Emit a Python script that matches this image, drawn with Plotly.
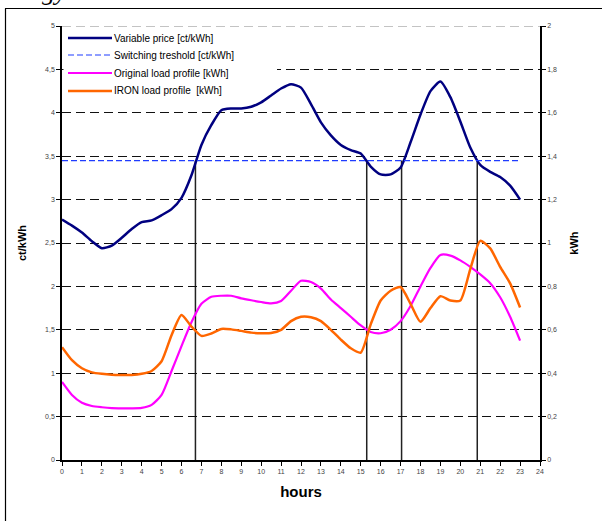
import plotly.graph_objects as go

# ---- data ----
hours = [i * 0.5 for i in range(47)]  # 0 .. 23 in half-hour steps

price = [2.77, 2.70, 2.62, 2.52, 2.44, 2.47, 2.56, 2.66, 2.74, 2.76,
         2.82, 2.89, 3.02, 3.28, 3.63, 3.86, 4.03, 4.05, 4.05, 4.07,
         4.12, 4.20, 4.28, 4.33, 4.29, 4.10, 3.89, 3.74, 3.63, 3.57,
         3.53, 3.38, 3.29, 3.29, 3.37, 3.66, 3.98, 4.25, 4.36, 4.18,
         3.90, 3.60, 3.40, 3.32, 3.26, 3.16, 3.00]

threshold_value = 3.45
threshold_hours = [0, 23]

original_load = [0.36, 0.30, 0.264, 0.249, 0.243, 0.239, 0.238, 0.238, 0.240, 0.254,
                 0.30, 0.41, 0.525, 0.635, 0.72, 0.752, 0.757, 0.757, 0.745, 0.736,
                 0.728, 0.722, 0.733, 0.78, 0.826, 0.82, 0.79, 0.74, 0.70, 0.66,
                 0.62, 0.59, 0.584, 0.60, 0.64, 0.71, 0.80, 0.885, 0.945, 0.942,
                 0.92, 0.89, 0.855, 0.815, 0.75, 0.66, 0.55]

iron_load = [0.52, 0.46, 0.423, 0.404, 0.397, 0.393, 0.392, 0.392, 0.397, 0.41,
             0.455, 0.575, 0.668, 0.615, 0.572, 0.583, 0.604, 0.602, 0.595, 0.587,
             0.584, 0.585, 0.60, 0.64, 0.660, 0.658, 0.64, 0.60, 0.555, 0.515,
             0.495, 0.625, 0.735, 0.78, 0.797, 0.72, 0.637, 0.70, 0.755, 0.735,
             0.735, 0.88, 1.01, 0.975, 0.89, 0.814, 0.703]

crossing_hours = [6.7, 15.3, 17.05, 20.85]

series_names = ["Variable price [ct/kWh]", "Switching treshold [ct/kWh]",
                "Original load profile [kWh]", "IRON load profile  [kWh]"]

left_ticks = [0, 0.5, 1, 1.5, 2, 2.5, 3, 3.5, 4, 4.5, 5]
left_labels = ["0", "0,5", "1", "1,5", "2", "2,5", "3", "3,5", "4", "4,5", "5"]
right_ticks = [0, 0.2, 0.4, 0.6, 0.8, 1, 1.2, 1.4, 1.6, 1.8, 2]
right_labels = ["0", "0,2", "0,4", "0,6", "0,8", "1", "1,2", "1,4", "1,6", "1,8", "2"]
x_ticks = list(range(25))

FONT = "Liberation Sans, Arial, sans-serif"

# plot-area geometry (pixels)
L, R, T, B = 62, 540, 26, 460
PW, PH = R - L, B - T


def px(xp):
    return (xp - L) / PW


def py(yp):
    return (B - yp) / PH


styles = [
    dict(color="#000080", width=2.5),
    dict(color="#1f3cff", width=1.2, dash="6px,3px"),
    dict(color="#ff00ff", width=2.2),
    dict(color="#ff6600", width=2.5),
]

fig = go.Figure()

fig.add_trace(go.Scatter(x=hours, y=price, name=series_names[0], mode="lines",
                         line=dict(**styles[0], shape="spline", smoothing=0.6)))
fig.add_trace(go.Scatter(x=threshold_hours, y=[threshold_value] * len(threshold_hours),
                         name=series_names[1], mode="lines", line=styles[1]))
fig.add_trace(go.Scatter(x=hours, y=original_load, name=series_names[2], yaxis="y2",
                         mode="lines", line=dict(**styles[2], shape="spline", smoothing=0.6)))
fig.add_trace(go.Scatter(x=hours, y=iron_load, name=series_names[3], yaxis="y2",
                         mode="lines", line=dict(**styles[3], shape="spline", smoothing=0.6)))

shapes = []
for h in crossing_hours:
    shapes.append(dict(type="line", xref="x", yref="y", x0=h, x1=h, y0=0, y1=threshold_value,
                       line=dict(color="#222222", width=1.5), layer="below"))
# top gridline in gray
shapes.append(dict(type="line", xref="paper", yref="y", x0=0, x1=1, y0=5, y1=5,
                   line=dict(color="#888888", width=1.2, dash="9px,5px"), layer="above"))
# outer frame (left and top edges of the surrounding box)
shapes.append(dict(type="line", xref="paper", yref="paper",
                   x0=px(5.5), x1=px(5.5), y0=py(530), y1=py(8.5),
                   line=dict(color="#000000", width=1.2), layer="above"))
shapes.append(dict(type="line", xref="paper", yref="paper",
                   x0=px(5), x1=px(610), y0=py(8.5), y1=py(8.5),
                   line=dict(color="#000000", width=1.2), layer="above"))
# legend background (covers the gridline behind the legend)
shapes.append(dict(type="rect", xref="paper", yref="paper",
                   x0=px(63.5), x1=px(277), y0=py(82), y1=py(27.5),
                   fillcolor="white", line=dict(width=0), layer="above"))

legend_y = [38, 55, 73, 91]
annotations = []
for name, st, yy in zip(series_names, styles, legend_y):
    shapes.append(dict(type="line", xref="paper", yref="paper",
                       x0=px(68), x1=px(112), y0=py(yy), y1=py(yy),
                       line=st, layer="above"))
    annotations.append(dict(text=name, xref="paper", yref="paper",
                            x=px(112), y=py(yy), xanchor="left", yanchor="middle",
                            showarrow=False,
                            font=dict(size=10, family=FONT, color="#000")))

annotations.append(dict(text="<i>gy</i>", xref="paper", yref="paper",
                        x=px(40), y=py(8), xanchor="left", yanchor="bottom",
                        showarrow=False,
                        font=dict(size=26, family="Liberation Serif, Times New Roman, serif")))

fig.update_layout(
    width=602, height=521,
    margin=dict(l=L, r=602 - R, t=T, b=521 - B),
    paper_bgcolor="white", plot_bgcolor="white",
    font=dict(family=FONT, color="#000000"),
    showlegend=False,
    hovermode=False,
    shapes=shapes,
    annotations=annotations,
    xaxis=dict(range=[0, 24], tickmode="array", tickvals=x_ticks,
               ticktext=[str(t) for t in x_ticks],
               ticks="outside", ticklen=4, tickwidth=1, tickcolor="#000",
               tickfont=dict(size=7, color="#444", family=FONT),
               showline=True, linecolor="#000", linewidth=1.5,
               showgrid=False, zeroline=False,
               title=dict(text="<b>hours</b>", font=dict(size=15, family=FONT), standoff=12)),
    yaxis=dict(range=[0, 5], tickmode="array", tickvals=left_ticks, ticktext=left_labels,
               ticks="outside", ticklen=4, tickwidth=1, tickcolor="#000",
               tickfont=dict(size=7, color="#444", family=FONT),
               showline=True, linecolor="#000", linewidth=1.5,
               showgrid=True, gridcolor="#111111", gridwidth=1, griddash="9px,5px",
               zeroline=False,
               title=dict(text="<b>ct/kWh</b>", font=dict(size=11, family=FONT), standoff=16)),
    yaxis2=dict(range=[0, 2], overlaying="y", side="right", tickmode="array",
                tickvals=right_ticks, ticktext=right_labels,
                ticks="outside", ticklen=4, tickwidth=1, tickcolor="#000",
                tickfont=dict(size=7, color="#444", family=FONT),
                showline=True, linecolor="#000", linewidth=1.5,
                showgrid=False, zeroline=False,
                title=dict(text="<b>kWh</b>", font=dict(size=11, family=FONT), standoff=14)),
)

fig.write_html("out.html", config={"displayModeBar": False},
               post_script="document.body.style.margin='0';")
